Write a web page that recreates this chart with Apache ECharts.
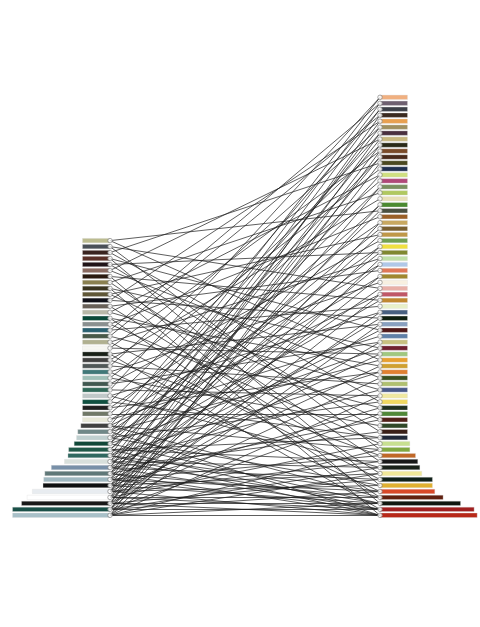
<!DOCTYPE html>
<html>
<head>
<meta charset="utf-8">
<script src="https://cdn.jsdelivr.net/npm/echarts@6/dist/echarts.min.js"></script>
<style>
html,body{margin:0;padding:0;background:#ffffff;}
#chart{width:480px;height:627px;}
</style>
</head>
<body>
<div id="chart"></div>
<script>
// ---- data ----
const slotCount = 71; // row slots on the shared vertical scale
const leftOffset = 24; // left stack occupies the bottom 47 slots

const leftColors = [
  '#bcbc90','#4a5058','#3a2420','#5a3028','#201418','#8a6a60','#2a1a10','#8a8050',
  '#3a3420','#605838','#101018','#686058','#b8b8a8','#0a4838','#8a9090','#2a6070',
  '#485848','#b0b090','#f6f6f2','#182018','#404040','#505858','#407878','#a0c0b8',
  '#405850','#306858','#c0c8c8','#105040','#202020','#707868','#e8e8d8','#404040',
  '#708888','#c0d0d0','#104838','#205848','#306860','#d8e0dc','#7890a8','#607878',
  '#a0b8c0','#101010','#e8ecf0','#ffffff','#181818','#1a5048','#a8c0c8'
];
const leftValues = [
  2,2,2,2,2,2,2,2,2,2,2,2,2,2,2,2,
  2,2,2,2,2,2,2,2,2,2,2,2,2,2,2,2.12,
  2.34,2.43,2.6,3.0,3.05,3.3,4.25,4.72,4.8,4.85,5.62,6.0,6.4,7.05,7.05
];

const rightColors = [
  '#f0b080','#6e6070','#3c4048','#3a2a20','#e8a050','#a09060','#4a3040','#c8b880',
  '#2a2a18','#7a4a28','#4a2a1a','#4a4820','#203050','#d0e080','#b04878','#7a9060',
  '#b0c860','#e8e0b8','#4a8a30','#4a5040','#9a6028','#c8a860','#7a6030','#c09848',
  '#70a050','#f0e040','#808830','#c0e0a8','#b0c8e8','#e07858','#a08830','#f8f0e0',
  '#e8b0a8','#c05868','#c08830','#e8f0c8','#486080','#102010','#88a0c0','#501818',
  '#6080a8','#c8c080','#702030','#a0c880','#e8a030','#d0a030','#e08030','#3a5020',
  '#b0c070','#485888','#f0e8a0','#f0d860','#203020','#508838','#502018','#304828',
  '#3a2018','#202838','#c8e090','#80a840','#c06828','#181818','#182018','#f0e898',
  '#102018','#e0b030','#d84828','#602010','#101810','#a02020','#b82818'
];
const rightValues = [
  2,2,2,2,2,2,2,2,2,2,2,2,2,2,2,2,2,2,2,2,
  2,2,2,2,2,2,2,2,2,2,2,2,2,2,2,2,2,2,2,2,
  2,2,2,2,2,2,2,2,2,2,2,2,2,2,2,2,2,2,
  2.17,2.17,2.58,2.74,2.89,3.03,3.8,3.8,3.97,4.57,5.83,6.81,7.03
];

// links: [left node number (1..47), right node number (1..71)]
const links = [
  [1,20],[1,45],[2,33],[2,60],[3,12],[3,52],[4,40],[4,66],[5,27],[5,57],
  [6,8],[6,48],[7,35],[7,69],[8,17],[8,62],[9,43],[9,71],[10,24],[10,55],
  [11,5],[11,38],[12,30],[12,64],[13,14],[13,50],[14,46],[14,68],[15,21],[15,59],
  [16,2],[16,36],[17,4],[17,53],[18,28],[18,65],[19,10],[19,44],[20,39],[20,70],
  [21,18],[21,61],[22,6],[22,49],[23,32],[23,67],[24,13],[24,56],[25,25],[25,42],
  [26,1],[26,51],[27,37],[27,63],[28,9],[28,58],[29,22],[29,47],[30,15],[30,54],
  [31,29],[31,41],
  [32,3],[32,34],[32,60],[32,68],
  [33,7],[33,26],[33,45],[33,71],
  [34,11],[34,31],[34,52],[34,66],
  [35,1],[35,19],[35,43],[35,69],
  [36,16],[36,23],[36,58],[36,70],[36,62],
  [37,2],[37,35],[37,47],[37,67],[37,71],
  [38,6],[38,27],[38,50],[38,63],[38,69],
  [39,3],[39,14],[39,40],[39,57],[39,65],[39,70],
  [40,8],[40,20],[40,33],[40,55],[40,68],[40,71],
  [41,5],[41,24],[41,44],[41,61],[41,67],[41,70],
  [42,11],[42,29],[42,38],[42,53],[42,64],[42,69],
  [43,4],[43,19],[43,31],[43,46],[43,62],[43,71],[43,66],
  [44,9],[44,26],[44,42],[44,59],[44,70],[44,68],
  [45,7],[45,16],[45,37],[45,48],[45,65],[45,71],[45,69],
  [46,12],[46,22],[46,34],[46,54],[46,63],[46,70],[46,67],
  [47,10],[47,28],[47,39],[47,51],[47,60],[47,71],[47,69],[47,64]
];

// ---- build ----
const slots = Array.from({length: slotCount}, (_, i) => String(i));
const leftBarData = [];
for (let i = 0; i < slotCount; i++) {
  const k = i - leftOffset;
  if (k < 0) leftBarData.push('-');
  else leftBarData.push({value: leftValues[k], itemStyle: {color: leftColors[k]}});
}
const rightBarData = rightValues.map((v, i) => ({value: v, itemStyle: {color: rightColors[i]}}));

const lineData = links.map(([l, r]) => ({coords: [[0, l - 1 + leftOffset], [1, r - 1]]}));
const leftNodes = leftValues.map((_, k) => [0, k + leftOffset]);
const rightNodes = rightValues.map((_, i) => [1, i]);

const gTop = 94.3, gHeight = 424;
const unit = 13.85; // px per value unit
const chart = echarts.init(document.getElementById('chart'), null, {renderer: 'canvas'});
const yAx = (gi) => ({type: 'category', gridIndex: gi, data: slots, inverse: true, show: false, boundaryGap: true});
chart.setOption({
  backgroundColor: '#ffffff',
  animation: false,
  grid: [
    {left: 0, top: gTop, width: 110, height: gHeight},
    {left: 110, top: gTop, width: 270, height: gHeight},
    {left: 380, top: gTop, width: 100, height: gHeight}
  ],
  xAxis: [
    {type: 'value', gridIndex: 0, inverse: true, min: 0, max: 110 / unit, show: false},
    {type: 'value', gridIndex: 1, min: 0, max: 1, show: false},
    {type: 'value', gridIndex: 2, min: 0, max: 100 / unit, show: false}
  ],
  yAxis: [yAx(0), yAx(1), yAx(2)],
  series: [
    {
      type: 'bar', xAxisIndex: 0, yAxisIndex: 0, data: leftBarData,
      barWidth: 4.8, itemStyle: {borderColor: 'rgba(220,220,220,0.8)', borderWidth: 0.4}
    },
    {
      type: 'bar', xAxisIndex: 2, yAxisIndex: 2, data: rightBarData,
      barWidth: 4.8, itemStyle: {borderColor: 'rgba(220,220,220,0.8)', borderWidth: 0.4}
    },
    {
      type: 'lines', coordinateSystem: 'cartesian2d', xAxisIndex: 1, yAxisIndex: 1,
      clip: false, data: lineData,
      lineStyle: {color: '#1e1e1e', width: 0.9, opacity: 0.8}
    },
    {
      type: 'scatter', xAxisIndex: 1, yAxisIndex: 1, clip: false, z: 5,
      data: leftNodes.concat(rightNodes), symbol: 'circle', symbolSize: 4.5,
      itemStyle: {color: '#ffffff', borderColor: '#777777', borderWidth: 0.8}
    }
  ]
});
</script>
</body>
</html>
